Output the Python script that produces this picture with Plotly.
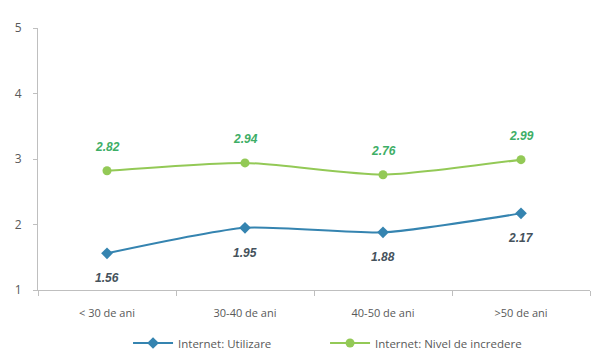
import plotly.graph_objects as go

categories = ["< 30 de ani", "30-40 de ani", "40-50 de ani", ">50 de ani"]
utilizare = [1.56, 1.95, 1.88, 2.17]
incredere = [2.82, 2.94, 2.76, 2.99]
y_ticks = [1, 2, 3, 4, 5]

blue = "#3584B0"
green = "#93C956"

fig = go.Figure()
fig.add_trace(go.Scatter(
    x=categories, y=utilizare, name="Internet: Utilizare",
    mode="lines+markers",
    line=dict(color=blue, width=2, shape="spline", smoothing=0.6),
    marker=dict(symbol="diamond", size=9, color=blue),
))
fig.add_trace(go.Scatter(
    x=categories, y=incredere, name="Internet: Nivel de incredere",
    mode="lines+markers",
    line=dict(color=green, width=2, shape="spline", smoothing=0.6),
    marker=dict(symbol="circle", size=9, color=green),
))

for c, v in zip(categories, utilizare):
    fig.add_annotation(x=c, y=v, text=f"<b><i>{v:.2f}</i></b>", showarrow=False,
                       yshift=-25, font=dict(family="Liberation Sans", size=12, color="#45525C"))
for c, v in zip(categories, incredere):
    fig.add_annotation(x=c, y=v, text=f"<b><i>{v:.2f}</i></b>", showarrow=False,
                       yshift=24, font=dict(family="Liberation Sans", size=12, color="#3DAE66"))

fig.update_layout(
    width=595, height=356,
    margin=dict(l=38, r=5, t=28, b=66, autoexpand=False),
    paper_bgcolor="white", plot_bgcolor="white",
    font=dict(family="Open Sans", size=11, color="#595959"),
    showlegend=True,
    legend=dict(orientation="h", x=0.52, xanchor="center",
                yref="container", y=1 - 343 / 356, yanchor="middle",
                font=dict(size=11.5, color="#595959"), itemwidth=40,
                entrywidth=142),
)
fig.update_xaxes(
    showline=True, linecolor="#BFBFBF", linewidth=1,
    ticks="outside", ticklen=5, tickcolor="#BFBFBF",
    tickson="boundaries", showgrid=False, zeroline=False,
    range=[-0.5, 3.5], ticklabelstandoff=13,
)
fig.update_yaxes(
    range=[1, 5], tickvals=y_ticks, showline=True, linecolor="#BFBFBF", linewidth=1,
    ticks="outside", ticklen=4, tickcolor="#BFBFBF", showgrid=False, zeroline=False,
    tickfont=dict(size=12), ticklabelstandoff=9,
)

fig.write_html("out.html")
